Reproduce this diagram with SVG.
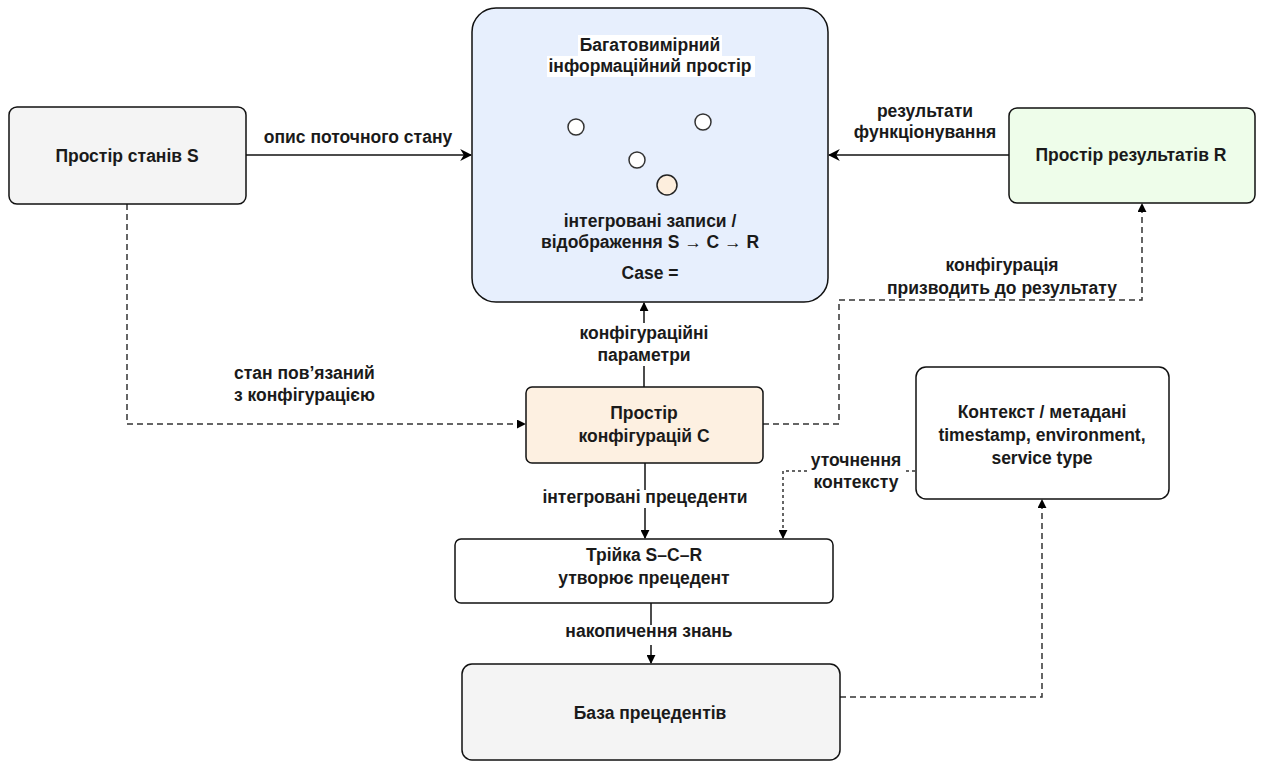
<svg xmlns="http://www.w3.org/2000/svg" width="1262" height="767" viewBox="0 0 1262 767">
  <style>
    .box { stroke: #111; stroke-width: 1.5; }
    .t { font-family: "Liberation Sans", Arial, sans-serif; font-size: 17.5px; font-weight: bold; fill: #1a1a1a; text-anchor: middle; }
    .tl { font-family: "Liberation Sans", Arial, sans-serif; font-size: 17.5px; font-weight: bold; fill: #1a1a1a; text-anchor: start; }
    .solid { fill: none; stroke: #111; stroke-width: 1.5; }
    .dash { fill: none; stroke: #333; stroke-width: 1.5; stroke-dasharray: 6 4; }
    .dot { fill: none; stroke: #333; stroke-width: 1.5; stroke-dasharray: 3 3; }
    .dot-node { fill: #fff; stroke: #333; stroke-width: 1.5; }
    .dot-node.hl { fill: #fdeedd; stroke: #222; }
    .bg { fill: #fff; }
  </style>
  <defs>
    <marker id="arr" viewBox="0 0 10 10" refX="9" refY="5" markerWidth="9" markerHeight="9" markerUnits="userSpaceOnUse" orient="auto">
      <path d="M0,0 L10,5 L0,10 Z" fill="#000"/>
    </marker>
    <marker id="arrB" viewBox="0 0 10 10" refX="9" refY="5" markerWidth="12" markerHeight="12" markerUnits="userSpaceOnUse" orient="auto">
      <path d="M0,0 L10,5 L0,10 L3,5 Z" fill="#000"/>
    </marker>
  </defs>

  <rect width="1262" height="767" fill="#fff"/>

  <!-- connectors -->
  <g id="connectors">
    <line class="solid" x1="246" y1="155" x2="471" y2="155" marker-end="url(#arrB)" stroke-width="2"/>
    <line class="solid" x1="1009" y1="155" x2="829" y2="155" marker-end="url(#arrB)" stroke-width="2"/>
    <line class="solid" x1="644" y1="387" x2="644" y2="303" marker-end="url(#arr)"/>
    <path class="dash" d="M127,204 V424 H525" marker-end="url(#arr)"/>
    <path class="dash" d="M763,424 H839 V300 H1142 V204" marker-end="url(#arr)"/>
    <line class="solid" x1="645" y1="463" x2="645" y2="538" marker-end="url(#arr)"/>
    <path class="dot" d="M915,471 H783 V538" marker-end="url(#arr)"/>
    <line class="solid" x1="651" y1="603" x2="651" y2="663" marker-end="url(#arr)"/>
    <path class="dash" d="M840,697 H1042 V500" marker-end="url(#arr)"/>
  </g>

  <!-- main information space -->
  <g id="info-space">
    <rect class="box" x="472" y="8" width="356" height="294" rx="24" fill="#e7effd" stroke-width="2"/>
    <rect class="bg" x="578" y="35" width="144" height="21"/>
    <rect class="bg" x="547" y="56" width="208" height="21"/>
    <text class="t" x="650" y="51">Багатовимірний</text>
    <text class="t" x="650" y="72">інформаційний простір</text>
    <circle class="dot-node" cx="576" cy="127" r="8"/>
    <circle class="dot-node" cx="703" cy="122" r="8"/>
    <circle class="dot-node" cx="637" cy="160" r="8"/>
    <circle class="dot-node hl" cx="667" cy="185" r="10"/>
    <text class="t" x="650" y="227">інтегровані записи /</text>
    <text class="t" x="650" y="248">відображення S → C → R</text>
    <text class="t" x="650" y="279">Case =</text>
  </g>

  <g id="state-space">
    <rect class="box" x="9" y="107" width="237" height="97" rx="8" fill="#f4f4f4"/>
    <text class="t" x="127" y="162">Простір станів S</text>
  </g>

  <g id="result-space">
    <rect class="box" x="1009" y="108" width="246" height="95" rx="8" fill="#eefdea"/>
    <text class="t" x="1131" y="161">Простір результатів R</text>
  </g>

  <g id="config-space">
    <rect class="box" x="526" y="387" width="237" height="76" rx="6" fill="#fdf0e1"/>
    <text class="t" x="644" y="419">Простір</text>
    <text class="t" x="644" y="442">конфігурацій C</text>
  </g>

  <g id="context">
    <rect class="box" x="916" y="367" width="253" height="132" rx="10" fill="#fff"/>
    <text class="t" x="1042" y="418">Контекст / метадані</text>
    <text class="t" x="1042" y="441">timestamp, environment,</text>
    <text class="t" x="1042" y="464">service type</text>
  </g>

  <g id="triple">
    <rect class="box" x="455" y="539" width="378" height="64" rx="6" fill="#fff"/>
    <text class="t" x="644" y="561">Трійка S–C–R</text>
    <text class="t" x="644" y="584">утворює прецедент</text>
  </g>

  <g id="case-base">
    <rect class="box" x="462" y="664" width="378" height="96" rx="10" fill="#f4f4f4"/>
    <text class="t" x="650" y="719">База прецедентів</text>
  </g>

  <!-- connector labels -->
  <g id="labels">
    <text class="t" x="358" y="143">опис поточного стану</text>
    <text class="t" x="925" y="117">результати</text>
    <text class="t" x="925" y="138">функціонування</text>
    <text class="t" x="1002" y="271">конфігурація</text>
    <text class="t" x="1002" y="294">призводить до результату</text>
    <rect class="bg" x="576" y="323" width="136" height="43"/>
    <text class="t" x="644" y="339">конфігураційні</text>
    <text class="t" x="644" y="361">параметри</text>
    <text class="tl" x="234" y="379">стан пов’язаний</text>
    <text class="tl" x="234" y="401">з конфігурацією</text>
    <rect class="bg" x="556" y="490" width="178" height="18"/>
    <text class="t" x="645" y="503">інтегровані прецеденти</text>
    <rect class="bg" x="808" y="455" width="95" height="39"/>
    <text class="t" x="856" y="466">уточнення</text>
    <text class="t" x="856" y="488">контексту</text>
    <rect class="bg" x="562" y="625" width="178" height="20"/>
    <text class="t" x="649" y="637">накопичення знань</text>
  </g>
</svg>
